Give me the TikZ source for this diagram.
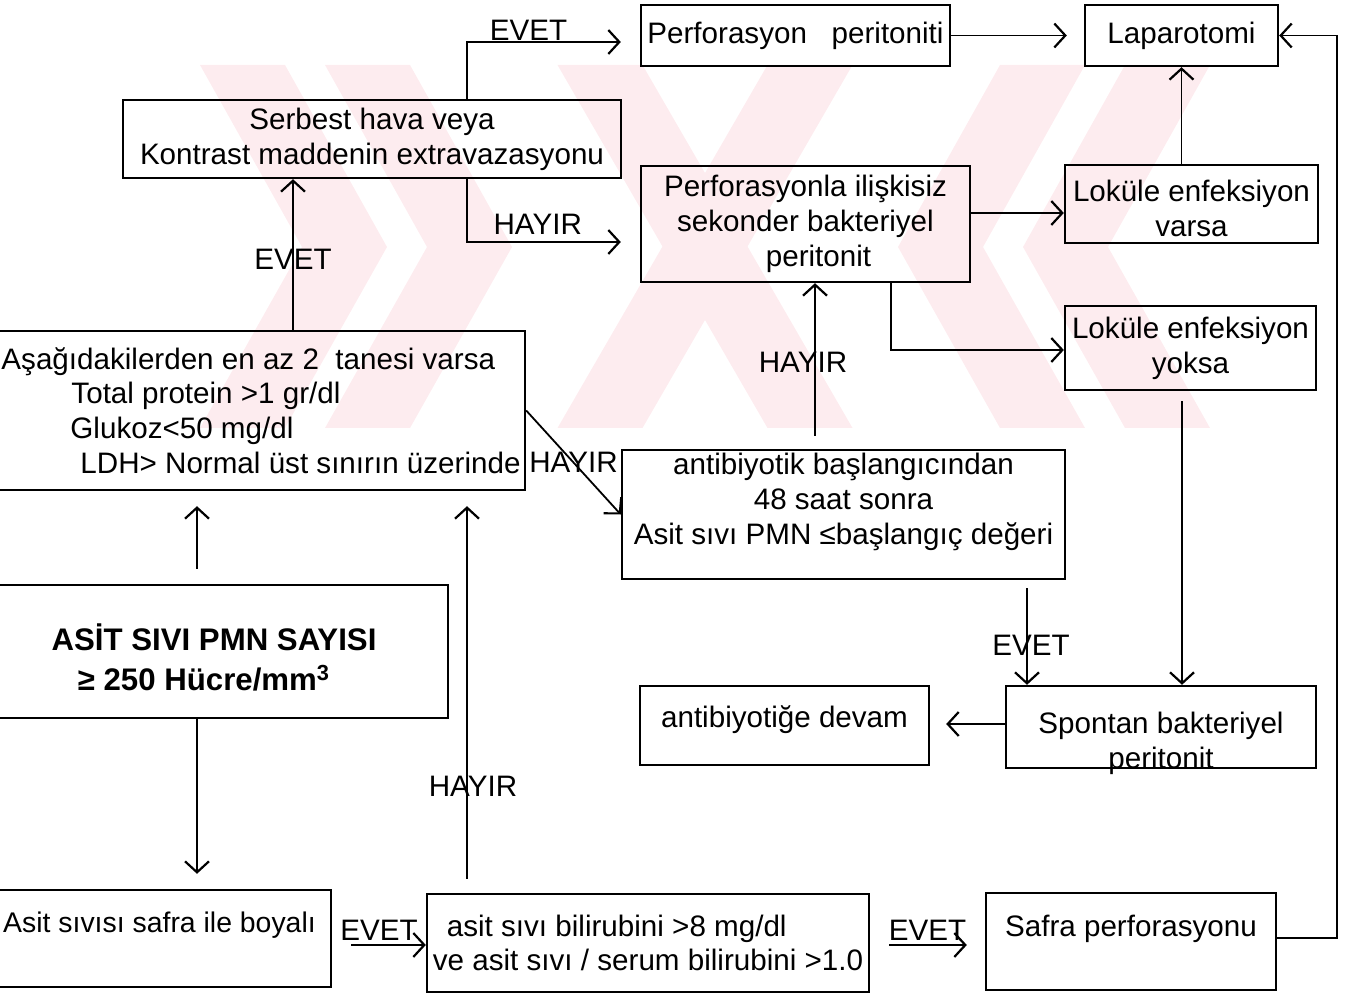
\documentclass[tikz,border=0pt]{standalone}
\usepackage{fontspec}
\setmainfont{Liberation Sans}
\usetikzlibrary{arrows.meta,calc}
\definecolor{wmpink}{RGB}{253,236,239}
\newcommand{\fs}{\fontsize{14.8}{17.4}\selectfont}
\newcommand{\padtop}[1]{\rule{0pt}{\dimexpr#1+10.8pt\relax}}
\newcommand{\padbot}[1]{\rule[-\dimexpr#1+3.2pt\relax]{0pt}{\dimexpr#1+3.2pt\relax}}

\begin{document}
\begin{tikzpicture}[x=0.5pt, y=-0.5pt,
  box/.style={draw, line width=1.2pt, inner sep=0pt, align=center, font=\fs},
  lbl/.style={font=\fs, inner sep=1pt},
  arr/.style={line width=0.9pt, -{Straight Barb[length=5.5pt,width=12pt,line width=1.1pt]}}]

  \useasboundingbox (0,0) rectangle (1349,994);

  % watermark
  \fill[wmpink] (200,65) -- (285,65) -- (387,247) -- (285,428) -- (200,428) -- (302,247) -- cycle;
  \fill[wmpink] (325,65) -- (410,65) -- (512,247) -- (410,428) -- (325,428) -- (427,247) -- cycle;
  \fill[wmpink] (557.5,65) -- (642.5,65) -- (852.5,428) -- (767.5,428) -- cycle;
  \fill[wmpink] (767.5,65) -- (852.5,65) -- (642.5,428) -- (557.5,428) -- cycle;
  \fill[wmpink] (1085,65) -- (1000,65) -- (898,247) -- (1000,428) -- (1085,428) -- (983,247) -- cycle;
  \fill[wmpink] (1210,65) -- (1125,65) -- (1023,247) -- (1125,428) -- (1210,428) -- (1108,247) -- cycle;

  % boxes
  \node[box, minimum width=154.5pt, minimum height=30.5pt] (perf) at (795.5,35.5) {Perforasyon\ \ \ peritoniti};
  \node[box, minimum width=96.5pt, minimum height=30.5pt] (lap) at (1181.5,35.5) {Laparotomi};
  \node[box, minimum width=249pt, minimum height=39pt] (serb) at (372,139) {Serbest hava veya\\Kontrast maddenin extravazasyonu};
  \node[box, minimum width=164.5pt, minimum height=58pt] (perfb) at (805.5,224) {Perforasyonla ilişkisiz\\sekonder bakteriyel\\\hspace*{13pt}peritonit};
  \node[box, minimum width=126.5pt, minimum height=39pt] (lvar) at (1191.5,204) {\padtop{4pt}Loküle enfeksiyon\\varsa};
  \node[box, minimum width=125.5pt, minimum height=42pt] (lyok) at (1190.5,348) {Loküle enfeksiyon\\yoksa};
  \node[box, align=left, minimum width=268.5pt, minimum height=79.5pt] (crit) at (256.5,410.5)
    {\hspace*{4.5pt}Aşağıdakilerden en az 2\ \ tanesi varsa\\
     \hspace*{39.5pt}Total protein >1 gr/dl\\
     \hspace*{39pt}Glukoz<50 mg/dl\\
     \hspace*{44pt}LDH> Normal üst sınırın üzerinde};
  \node[box, minimum width=221.5pt, minimum height=64.5pt] (anti) at (843.5,514.5)
    {antibiyotik başlangıcından\\48 saat sonra\hspace*{27pt}\\Asit sıvı PMN ≤başlangıç değeri\padbot{12.5pt}};
  \node[box, minimum width=234pt, minimum height=66.5pt, font=\bfseries\fontsize{15.6}{20}\selectfont] (asit) at (214,651.5)
    {\padtop{8.5pt}ASİT SIVI PMN SAYISI\\≥ 250 Hücre/mm\textsuperscript{3}\hspace*{10pt}};
  \node[box, minimum width=144.5pt, minimum height=39.5pt] (adev) at (784.5,725.5) {antibiyotiğe devam\padbot{5.5pt}};
  \node[box, minimum width=155pt, minimum height=41pt] (spon) at (1161,727)
    {\padtop{12.8pt}Spontan bakteriyel\\\raisebox{0pt}[\height][0pt]{peritonit}};
  \node[box, minimum width=185.5pt, minimum height=48.5pt, font=\fontsize{14.2}{17}\selectfont] (bl) at (145.5,938.5)
    {\hspace*{14pt}Asit sıvısı safra ile boyalı\padbot{13.5pt}};
  \node[box, align=left, minimum width=221pt, minimum height=49pt] (bil) at (648,943)
    {\hspace*{7pt}asit sıvı bilirubini >8 mg/dl\\ve asit sıvı / serum bilirubini >1.0};
  \node[box, minimum width=145pt, minimum height=48.5pt] (saf) at (1131,941.5) {Safra perforasyonu\padbot{12.5pt}};

  % connectors
  \draw[arr] ($(serb.north)+(95,0)$) |- node[lbl, pos=0.7, anchor=base, yshift=0.5pt]{EVET} ($(perf.west)+(-19,6.5)$);
  \draw[arr] ($(serb.south)+(95,0)$) |- node[lbl, pos=0.73, above=2.5pt]{HAYIR} ($(perfb.west)+(-19,18)$);
  \draw[arr] (perf.east) -- ($(lap.west)+(-17,0)$);
  \draw[arr] ($(perfb.east)+(0,-11)$) -- ($(lvar.west)+(0,9)$);
  \draw[arr] ($(perfb.south)+(85.5,0)$) |- ($(lyok.west)+(0,2)$);
  \draw[arr] (lap.south |- lvar.north) -- (lap.south);
  \draw[arr] ($(crit.north)+(36.5,0)$) -- node[lbl, pos=0.47]{EVET} ($(serb.south)+(-79,0)$);
  \draw[arr] (crit.east) -- node[lbl, pos=0.5]{HAYIR} (anti.west);
  \draw[arr, shorten <=6.5pt] ($(anti.north)+(-28.5,0)$) -- node[lbl, pos=0.52, xshift=-6pt]{HAYIR} ($(perfb.south)+(9.5,0)$);
  \draw[arr, shorten <=4pt] ($(anti.south)+(183.5,0)$) -- node[lbl, pos=0.62, xshift=2pt]{EVET} ($(spon.north)+(-134,0)$);
  \draw[arr, shorten <=5pt] ($(lyok.south)+(-8.5,0)$) -- ($(spon.north)+(21,0)$);
  \draw[arr, shorten >=8pt] ($(spon.west)+(0,-3)$) -- ($(adev.east)+(0,-1.5)$);
  \draw[arr, shorten <=7.5pt, shorten >=7.5pt] ($(asit.north)+(-17,0)$) -- ($(crit.south)+(-59.5,0)$);
  \draw[arr, shorten >=7.5pt] ($(asit.south)+(-17,0)$) -- ($(bl.north)+(51.5,0)$);
  \draw[arr, shorten <=7pt, shorten >=7.5pt] ($(bil.north)+(-181,0)$) -- node[lbl, pos=0.265, xshift=3pt]{HAYIR} ($(crit.south)+(210.5,0)$);
  \draw[arr, shorten <=9.5pt] ($(bl.east)+(0,6.5)$) -- node[lbl, above=1pt]{EVET} ($(bil.west)+(0,2)$);
  \draw[arr, shorten <=9.5pt, shorten >=9pt] ($(bil.east)+(0,2)$) -- node[lbl, above=1pt]{EVET} ($(saf.west)+(0,3.5)$);
  \draw[arr] ($(saf.east)+(0,-3.5)$) -- ++(60,0) |- (lap.east);
\end{tikzpicture}
\end{document}
